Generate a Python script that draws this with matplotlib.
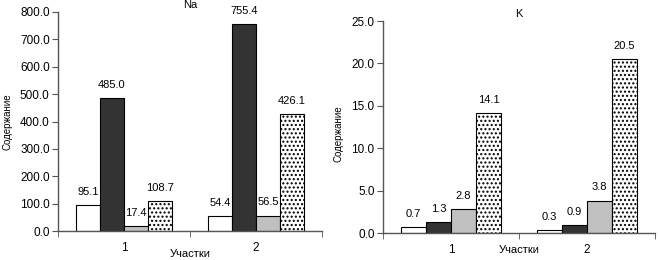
import matplotlib
matplotlib.use("Agg")
import matplotlib.pyplot as plt
import numpy as np

plt.rcParams['font.family'] = ['Liberation Sans', 'DejaVu Sans']
plt.rcParams['hatch.linewidth'] = 1.0

categories = ["1", "2"]
na_values = [
    [95.1, 54.4],
    [485.0, 755.4],
    [17.4, 56.5],
    [108.7, 426.1],
]
k_values = [
    [0.7, 0.3],
    [1.3, 0.9],
    [2.8, 3.8],
    [14.1, 20.5],
]
na_ticks = [0, 100, 200, 300, 400, 500, 600, 700, 800]
k_ticks = [0, 5, 10, 15, 20, 25]

face_colors = ["white", "#333333", "#c0c0c0", "white"]
hatches = [None, None, None, "...."]

fig = plt.figure(figsize=(6.58, 2.6), dpi=100)

def draw(ax, values, ticks, title, title_pad, xlab_pad, width):
    x = np.arange(len(categories))
    offsets = [-1.5, -0.5, 0.5, 1.5]
    for i, vals in enumerate(values):
        bars = ax.bar(x + offsets[i] * width, vals, width, color=face_colors[i],
                      edgecolor="black", linewidth=0.8, hatch=hatches[i])
        for b, v in zip(bars, vals):
            ax.annotate(f"{v:.1f}", (b.get_x() + b.get_width() / 2, v),
                        xytext=(0, 6), textcoords="offset points",
                        ha="center", va="bottom", fontsize=8)
    ax.set_xlim(-0.5, 1.5)
    ax.set_ylim(ticks[0], ticks[-1])
    ax.set_yticks(ticks)
    ax.set_yticklabels([f"{t:.1f}" for t in ticks], fontsize=8.5)
    ax.set_xticks(x)
    ax.set_xticklabels(categories, fontsize=8.5)
    ax.tick_params(axis='x', which='major', length=0, pad=8)
    ax.set_xticks([-0.5, 0.5, 1.5], minor=True)
    ax.tick_params(axis='x', which='minor', length=4, color="#555555", direction='out')
    ax.tick_params(axis='y', length=4, color="#555555", direction='out', pad=2)
    for s in ["top", "right"]:
        ax.spines[s].set_visible(False)
    for s in ["left", "bottom"]:
        ax.spines[s].set_color("#555555")
        ax.spines[s].set_linewidth(1.0)
    ax.set_title(title, fontsize=8, pad=title_pad)
    ax.set_ylabel("Содержание", fontsize=7)
    ax.set_xlabel("Участки", fontsize=8, labelpad=xlab_pad)

ax1 = fig.add_axes([58 / 658, 29 / 260, 264 / 658, 219 / 260])
draw(ax1, na_values, na_ticks, "Na", 3, -4, 0.182)
ax1.yaxis.set_label_coords(-0.172, 0.5)

ax2 = fig.add_axes([383 / 658, 27 / 260, 272 / 658, 212 / 260])
draw(ax2, k_values, k_ticks, "K", 3, -8, 0.184)
ax2.yaxis.set_label_coords(-0.145, 0.47)

fig.savefig("out.png", dpi=100)
